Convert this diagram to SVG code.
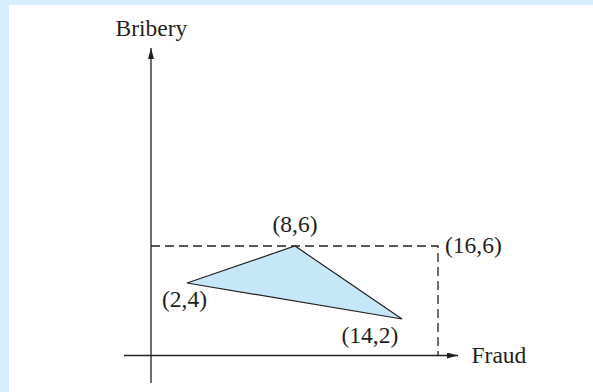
<svg xmlns="http://www.w3.org/2000/svg" width="593" height="392" viewBox="0 0 593 392">
<defs>
<style>
.ax{stroke:#231f20;stroke-width:1.3;fill:none}
.dash{stroke:#231f20;stroke-width:1.3;fill:none;stroke-dasharray:9 5}
.lbl{font-family:"Liberation Serif","Times New Roman",serif;font-size:23.5px;fill:#231f20}
</style>
<marker id="arr" viewBox="0 0 11 6" refX="11" refY="3" markerWidth="11" markerHeight="6" markerUnits="userSpaceOnUse" orient="auto">
<path d="M0,0 L11,3 L0,6 Z" fill="#231f20"/>
</marker>
</defs>
<rect x="0" y="0" width="593" height="392" fill="#d6edfb"/>
<rect x="9" y="5" width="584" height="387" fill="#ffffff"/>
<g id="connectors">
<line class="ax" x1="151" y1="383" x2="151" y2="48" marker-end="url(#arr)"/>
<line class="ax" x1="124" y1="355.5" x2="458" y2="355.5" marker-end="url(#arr)"/>
<polyline class="dash" points="151,246 438,246 438,355"/>
</g>
<g id="triangle">
<polygon points="187,283 295,246 402,319" fill="#c6e7f8" stroke="#231f20" stroke-width="1.2" stroke-linejoin="miter"/>
</g>
<g id="label-bribery"><text class="lbl" x="115.5" y="35.5">Bribery</text></g>
<g id="label-fraud"><text class="lbl" x="471.5" y="362.5">Fraud</text></g>
<g id="label-8-6"><text class="lbl" x="272.5" y="231.5">(8,6)</text></g>
<g id="label-16-6"><text class="lbl" x="445" y="252.5">(16,6)</text></g>
<g id="label-2-4"><text class="lbl" x="162" y="306.5">(2,4)</text></g>
<g id="label-14-2"><text class="lbl" x="341.5" y="342.5">(14,2)</text></g>
</svg>
